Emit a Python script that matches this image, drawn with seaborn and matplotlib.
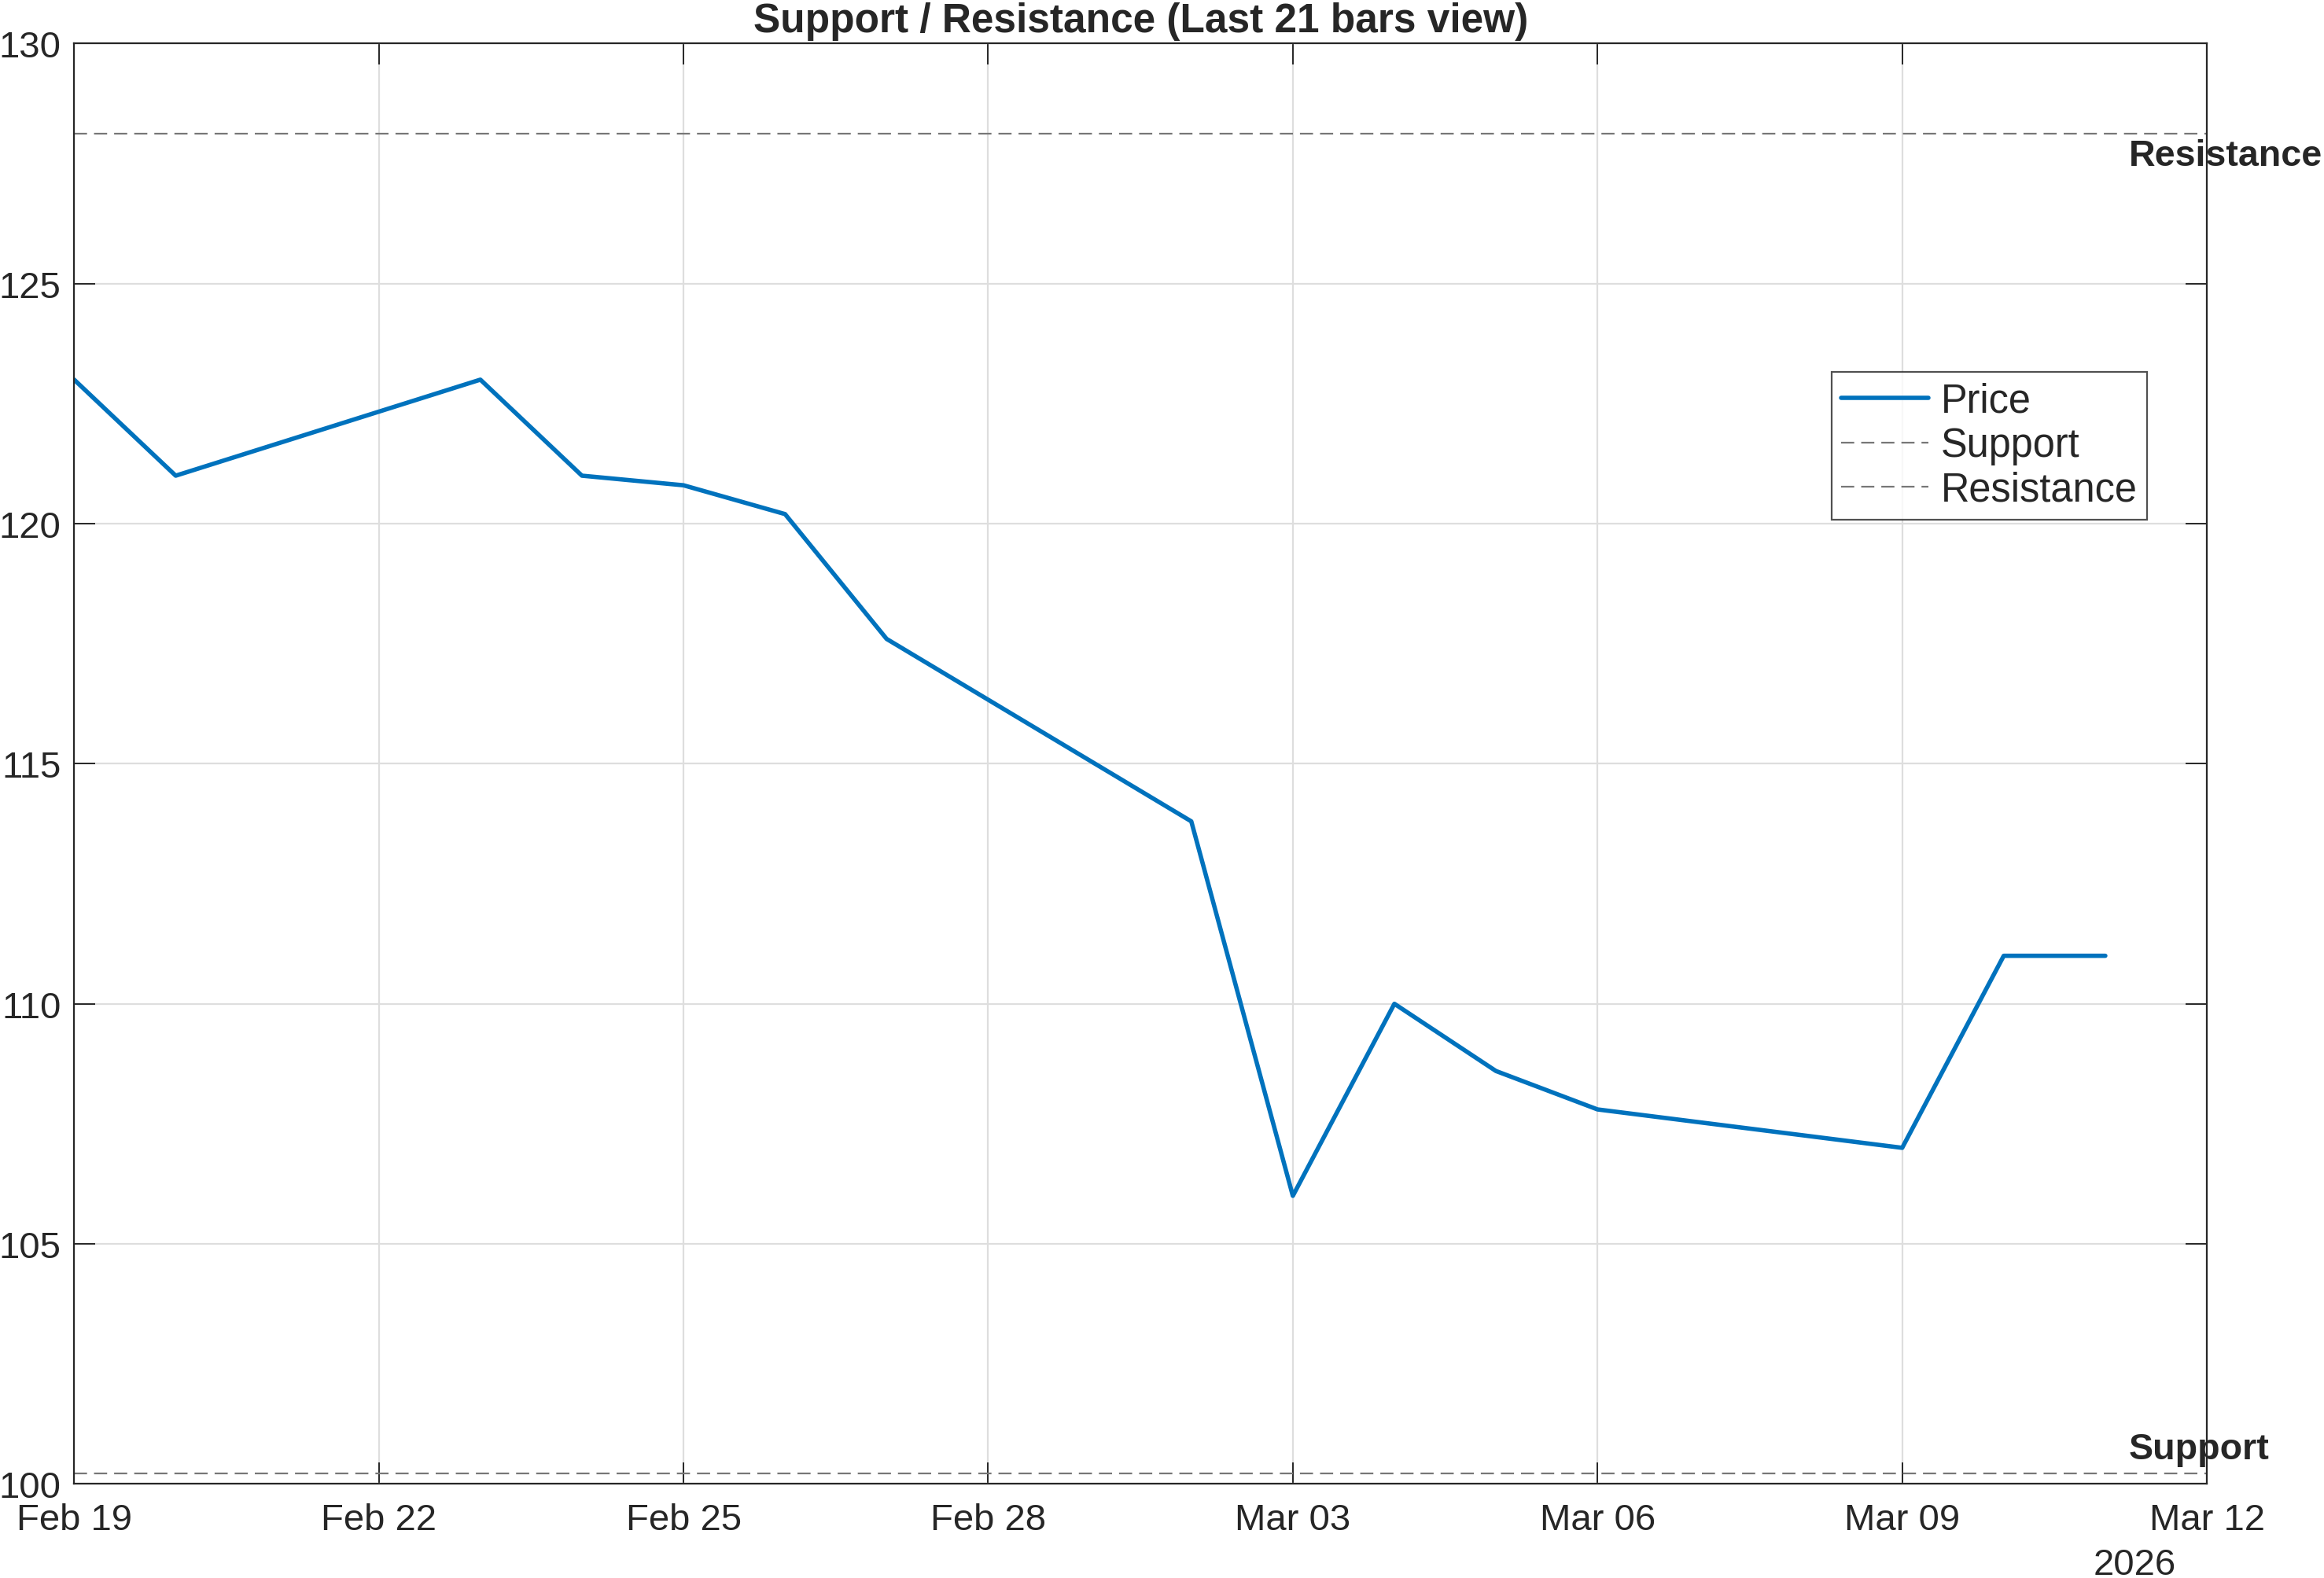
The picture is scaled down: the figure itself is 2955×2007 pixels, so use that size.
import pandas as pd
import matplotlib
matplotlib.use("Agg")
import matplotlib.pyplot as plt
import matplotlib.dates as mdates
import seaborn as sns

# Datos
fechas = ["2026-02-19", "2026-02-20", "2026-02-23", "2026-02-24", "2026-02-25",
          "2026-02-26", "2026-02-27", "2026-03-02", "2026-03-03", "2026-03-04",
          "2026-03-05", "2026-03-06", "2026-03-09", "2026-03-10", "2026-03-11"]
precio = [123.0, 121.0, 123.0, 121.0, 120.8, 120.2, 117.6, 113.8,
          106.0, 110.0, 108.6, 107.8, 107.0, 111.0, 111.0]
soporte = 100.22
resistencia = 128.12
titulo = "Support / Resistance (Last 21 bars view)"

df = pd.DataFrame({"Fecha": pd.to_datetime(fechas), "Price": precio})

sns.set_theme(style="white")
plt.rcParams["font.family"] = ["Liberation Sans", "DejaVu Sans"]

fig, ax = plt.subplots(figsize=(14.775, 10.04), dpi=200)
fig.subplots_adjust(left=0.0319, right=0.9496, top=0.9719, bottom=0.0596)

sns.lineplot(data=df, x="Fecha", y="Price", ax=ax, color="#0072BD",
             linewidth=2.0, label="Price")
ax.axhline(soporte, color="#777777", linestyle="--", linewidth=0.8,
           dashes=(7.5, 4), label="Support")
ax.axhline(resistencia, color="#777777", linestyle="--", linewidth=0.8,
           dashes=(7.5, 4), label="Resistance")

x0 = pd.Timestamp("2026-02-19")
x1 = pd.Timestamp("2026-03-12")
ax.set_xlim(x0, x1)
ax.set_ylim(100, 130)
ax.set_xticks(pd.date_range(x0, x1, freq="3D"))
ax.xaxis.set_major_formatter(mdates.DateFormatter("%b %d"))
ax.set_yticks([100, 105, 110, 115, 120, 125, 130])

ax.grid(True, color="#dedede", linewidth=0.8)
ax.tick_params(direction="in", length=9.7, width=0.7, color="#262626",
               labelsize=17, labelcolor="#262626", top=True, right=True,
               bottom=True, left=True)
ax.tick_params(axis="x", pad=8.5)
ax.tick_params(axis="y", pad=6)
for s in ax.spines.values():
    s.set_color("#262626")
    s.set_linewidth(0.8)

ax.set_xlabel("")
ax.set_ylabel("")
ax.set_title(titulo, fontsize=18.5, fontweight="bold", color="#262626", pad=5.5)

# Etiquetas de soporte / resistencia
xt = x0 + pd.Timedelta(hours=20.23 * 24)
ax.text(xt, resistencia - 0.1, "Resistance", fontsize=16.8, fontweight="bold",
        color="#262626", ha="left", va="top", clip_on=False)
ax.text(xt, soporte + 0.15, "Support", fontsize=16.8, fontweight="bold",
        color="#262626", ha="left", va="bottom", clip_on=False)

ax.text(0.966, -0.044, "2026", transform=ax.transAxes, fontsize=17,
        color="#262626", ha="center", va="top")

leg = ax.legend(loc="upper right", bbox_to_anchor=(0.972, 0.772), fontsize=18.2,
                frameon=True, fancybox=False, handlelength=2.2,
                handletextpad=0.3, borderpad=0.25, labelspacing=0.15,
                borderaxespad=0)
leg.get_frame().set_edgecolor("#262626")
leg.get_frame().set_linewidth(0.8)
for t in leg.get_texts():
    t.set_color("#262626")

fig.savefig("out.png", dpi=200)
